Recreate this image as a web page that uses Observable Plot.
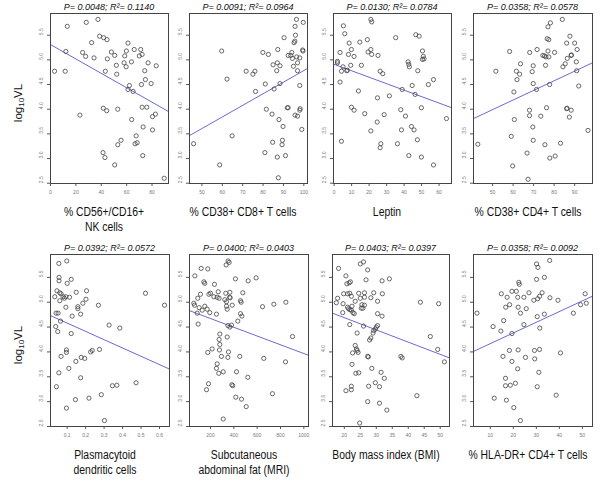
<!DOCTYPE html>
<html><head><meta charset="utf-8">
<script src="https://cdn.jsdelivr.net/npm/d3@7"></script>
<script src="https://cdn.jsdelivr.net/npm/@observablehq/plot@0.6"></script>
<style>
body{margin:0;background:#fff;}
#root{position:relative;width:600px;height:485px;overflow:hidden;font-family:"Liberation Sans",Arial,sans-serif;color:#111;}
.panel{position:absolute;}
.panel svg{overflow:visible;}
.lab{position:absolute;white-space:pre;text-align:center;}
.title{font-style:italic;font-size:9px;}
.xlab{font-size:12.5px;line-height:15px;}
.ylab{font-size:11.5px;}
.ylab sub{font-size:8px;vertical-align:-2px;line-height:0;}
</style></head><body><div id="root"></div>
<script>
// ---------------- data ----------------
const titles = ["P= 0.0048; R²= 0.1140","P= 0.0091; R²= 0.0964","P= 0.0130; R²= 0.0784","P= 0.0358; R²= 0.0578",
                "P= 0.0392; R²= 0.0572","P= 0.0400; R²= 0.0403","P= 0.0403; R²= 0.0397","P= 0.0358; R²= 0.0092"];
const xLabels = ["% CD56+/CD16+\nNK cells","% CD38+ CD8+ T cells","Leptin","% CD38+ CD4+ T cells",
                 "Plasmacytoid\ndendritic cells","Subcutaneous\nabdominal fat (MRI)","Body mass index (BMI)","% HLA-DR+ CD4+ T cells"];
const yLabel = "log10VL";
const xTicks = [[0,20,40,60,80],[50,60,70,80,90,100],[0,10,20,30,40,50,60],[50,60,70,80,90],
                [0.1,0.2,0.3,0.4,0.5,0.6],[200,400,600,800,1000],[20,25,30,35,40,45,50],[10,20,30,40,50]];
const xDomains = [[0,93],[43.9,101.8],[-0.35,67.1],[40.7,98.7],[0.0098,0.654],[20,1040],[16.3,52.9],[2.7,54.4]];
const yTicks = [2.5,3.0,3.5,4.0,4.5,5.0,5.5];
const yDomainTop = [2.494,5.94];
const yDomainBottom = [2.5,5.96];
const fitIntercepts = [5.31,2.433,4.91,3.016,4.747,4.848,5.181,3.952];
const fitSlopes = [-0.01459,0.0235,-0.0131,0.0195,-1.67,-0.00088,-0.0246,0.0215];

const nkCells = [[13.2,5.68],[28.2,5.76],[37.4,5.82],[38.7,5.48],[41.9,5.45],[44.5,5.41],[32.4,5.35],[25.3,5.15],[27.7,5.07],[12.1,5.17],[34.3,5.04],[44.8,5.02],[48,5.16],[50.6,5.09],[51.9,4.89],[43.2,4.77],[52.2,4.71],[3.2,4.77],[11.6,4.77],[61.1,5.34],[58.5,5.08],[59.8,5.18],[66,5.21],[71.1,5.21],[72.2,5.11],[70,5.08],[63.8,4.96],[58,4.94],[59.6,4.86],[76.9,4.94],[83.3,4.88],[74.3,4.78],[74.8,4.6],[79.3,4.52],[71.7,4.5],[62.2,4.48],[61.1,4.4],[65.1,4.36],[41.6,4.02],[44.3,3.97],[53,4.0],[72.2,4.04],[75.9,4.04],[80.4,3.85],[82.7,3.9],[23.2,3.88],[64,3.79],[73,3.64],[80.4,3.58],[67.5,3.46],[55.6,3.37],[53,3.28],[66.7,3.3],[68.3,3.32],[41.4,3.12],[42.9,3.02],[72.7,3.06],[50.6,2.87],[89.6,2.6]];
const cd38cd8 = [[45.9,3.3],[58.7,2.87],[59.7,5.18],[62.3,4.61],[64.8,3.46],[71.7,4.77],[75,4.71],[76,4.77],[76.3,4.36],[79.9,5.15],[82.6,5.11],[81.1,4.51],[81.6,4.0],[80.9,3.12],[84.4,3.9],[84.9,4.9],[85.4,4.41],[86.7,4.78],[87.2,5.21],[87,4.94],[88.3,4.88],[88.3,4.52],[87.8,3.79],[84.7,3.33],[89.5,3.37],[89.3,3.28],[87,3.03],[89.8,3.65],[87.5,2.61],[91,3.06],[90.3,5.45],[91.9,4.03],[92.3,4.03],[92.3,5.09],[93.6,5.09],[94.1,5.15],[94.4,5.03],[95.2,5.35],[95.6,5.38],[95.9,5.5],[95.7,5.68],[96.4,5.82],[96.5,5.06],[96.9,4.94],[94.9,4.87],[96.9,4.78],[95.7,3.88],[96.9,3.86],[98,3.98],[98,4.48],[99.7,5.76],[99.4,5.2],[99.6,5.18],[98.2,4.01],[99,3.59],[98,5.04]];
const leptin = [[1.9,4.97],[1.9,4.94],[3.4,5.15],[3.4,4.55],[4.2,4.77],[5.3,5.69],[6.1,5.53],[5.1,4.86],[7.2,4.78],[7.6,4.79],[8.6,5.34],[8.2,5.11],[9.5,4.89],[9.9,5.21],[11.4,5.07],[9.9,4.04],[11.4,3.98],[4.2,3.35],[13.9,4.37],[14.7,5.36],[15.6,4.89],[17.5,3.91],[19,5.41],[19.4,5.16],[21,5.82],[21.5,5.77],[21,5.21],[21.5,5.11],[25.1,5.09],[26.3,4.77],[27.8,4.72],[24.8,4.23],[24.6,3.74],[21,3.56],[28.6,3.89],[26.7,3.3],[26.3,3.22],[31.6,4.27],[35.2,5.45],[36.2,3.3],[38.1,3.99],[38.5,3.58],[38.9,4.4],[40.8,3.86],[42.3,4.96],[42.7,4.91],[43,4.86],[42.7,3.06],[44.2,3.65],[44.6,4.48],[45.7,3.58],[46.3,4.3],[46.7,5.51],[48.6,5.48],[47.8,4.78],[47.6,3.38],[49.9,4.03],[50.5,5.18],[51,5.07],[50.5,5.01],[51.4,5.02],[49.9,3.03],[53.9,4.5],[56.8,2.87],[56.8,4.6],[64.2,3.81]];
const cd38cd4 = [[42.8,3.29],[51.6,4.77],[58.3,5.17],[59.1,3.45],[59.8,2.85],[60.4,4.35],[60.6,3.79],[61.6,4.77],[61.9,4.6],[63.2,4.71],[63.6,4.92],[66.8,3.11],[67.3,2.58],[68.1,5.15],[68,3.98],[68,3.87],[69.3,4.76],[69.8,4.88],[69.8,4.52],[69.6,3.64],[69.8,3.37],[71.7,5.21],[71.4,4.4],[73.5,3.86],[74.5,5.09],[75.3,5.08],[76,5.06],[75.8,4.89],[76.6,5.43],[77,5.67],[77.4,5.41],[77,5.18],[77.4,5.06],[76.3,4.03],[75.5,3.28],[78.2,5.75],[77.8,4.5],[77.9,3.01],[80.2,5.15],[80.5,3.05],[83.1,3.31],[84,5.82],[84.3,4.86],[85.4,4.92],[86.1,5.34],[86.4,5.03],[86.1,4.01],[86.3,4.02],[87.4,3.84],[87.7,5.48],[88.3,5.09],[88.4,5.1],[88.3,3.98],[90,5.34],[91.2,5.21],[90.8,4.96],[91,4.78],[92,4.47],[96.5,3.57]];
const pdc = [[0.055,5.78],[0.098,5.83],[0.056,5.5],[0.056,5.43],[0.1,5.38],[0.122,5.46],[0.045,5.23],[0.06,5.19],[0.067,5.17],[0.033,5.11],[0.078,5.11],[0.085,5.08],[0.093,5.11],[0.06,5.03],[0.113,5.1],[0.149,5.2],[0.205,5.23],[0.202,5.06],[0.185,4.98],[0.158,4.91],[0.158,4.87],[0.093,4.9],[0.04,4.78],[0.051,4.78],[0.173,4.76],[0.127,4.72],[0.269,4.94],[0.524,5.18],[0.064,4.62],[0.038,4.51],[0.049,4.41],[0.122,4.37],[0.327,4.54],[0.385,4.48],[0.275,4.05],[0.236,4.03],[0.227,4.0],[0.096,4.04],[0.096,3.99],[0.067,3.91],[0.176,3.89],[0.195,3.87],[0.147,3.81],[0.109,3.67],[0.055,3.58],[0.173,3.48],[0.042,3.3],[0.345,3.32],[0.369,3.33],[0.473,3.38],[0.285,3.14],[0.218,3.07],[0.145,3.04],[0.096,2.87],[0.302,2.62],[0.627,4.94]];
const abdFat = [[120,5.68],[177,5.67],[66,5.53],[351,5.83],[360,5.8],[334,5.75],[143,5.41],[151,5.38],[234,5.36],[414,5.47],[523,5.43],[591,5.49],[57,4.98],[63,4.94],[91,5.08],[114,5.16],[186,5.16],[200,5.18],[229,5.11],[257,5.1],[274,5.08],[266,5.21],[323,5.05],[337,5.01],[331,5.18],[363,5.1],[369,5.09],[366,5.2],[386,4.94],[337,4.92],[343,4.86],[457,5.03],[463,5.0],[477,5.19],[151,4.92],[129,4.84],[171,4.86],[103,4.89],[194,4.79],[251,4.76],[94,4.56],[86,4.78],[457,4.77],[469,4.72],[434,4.62],[349,4.53],[366,4.5],[380,4.54],[646,4.91],[743,4.96],[846,5.0],[280,4.36],[343,4.3],[274,4.25],[280,4.15],[214,4.06],[177,3.99],[277,4.04],[354,4.0],[294,3.91],[349,3.89],[451,3.91],[657,3.87],[843,3.8],[903,4.31],[257,3.76],[251,3.67],[271,3.57],[309,3.6],[423,3.6],[183,3.36],[166,3.24],[383,3.34],[391,3.32],[520,3.49],[417,3.09],[466,3.05],[506,2.9],[731,3.16],[309,2.65]];
const bmi = [[18.2,5.68],[20.5,5.53],[20.8,5.37],[21.5,5.39],[21.9,5.41],[17.9,5.08],[17.5,4.99],[19.8,5.17],[21,5.17],[21.7,5.18],[22.2,5.12],[19.5,4.79],[19.6,4.97],[21,4.9],[21.3,4.87],[21.7,4.85],[22.4,4.92],[22.2,4.84],[22.7,4.79],[23.1,4.77],[21.7,4.55],[23.4,5.02],[24.5,5.18],[25,5.08],[25,5.77],[26,5.81],[25.5,4.95],[25.3,4.88],[25.8,4.88],[26.3,5.1],[26.3,5.19],[26.8,5.45],[27.3,5.65],[26.3,4.94],[28.3,5.09],[29.2,5.19],[30.4,5.02],[31.8,5.43],[34.1,5.47],[31.9,5.17],[26,4.52],[29,4.38],[29.2,4.43],[29.7,4.46],[30,4.5],[30.4,4.53],[30.4,4.77],[31.8,4.72],[24,4.38],[23.4,4.13],[23.8,4.06],[24,4.03],[24.3,3.99],[22.6,3.98],[27.9,4.24],[28.3,4.28],[27.3,3.91],[27.5,3.9],[22.4,3.75],[23.6,3.57],[24.5,3.58],[28.6,3.67],[31.5,3.59],[32.5,3.47],[29.7,3.38],[31,3.3],[27.6,3.31],[22.2,3.31],[22.2,3.24],[20.5,3.22],[27.3,3.0],[31,2.97],[33.3,2.83],[24.8,2.57],[37.7,3.91],[38.1,3.88],[43.8,5.0],[42.7,3.12],[46.9,4.31],[49.2,4.05],[49.5,4.97],[51.3,3.8]];
const hladr = [[4.2,4.78],[11.2,4.51],[14.8,5.17],[17.3,5.1],[19.4,5.22],[21.3,5.22],[18.4,4.95],[16.7,4.9],[15.8,4.63],[14.6,4.42],[19.4,4.37],[22.4,5.4],[22.6,5.36],[21.9,5.1],[22.1,4.9],[23.1,4.78],[24.6,5.1],[25.6,4.87],[26.8,5.19],[24.6,4.55],[28.9,5.04],[30.6,5.07],[31.4,5.12],[32.5,5.19],[30.4,4.71],[31.5,4.48],[33.5,4.76],[35.9,5.09],[30.1,5.77],[30.7,5.7],[30.1,5.46],[33.5,5.5],[35.8,5.84],[39.4,5.04],[46.1,4.78],[49.2,4.95],[51.7,4.98],[51.2,5.17],[15.5,3.91],[18.3,4.03],[19.4,3.81],[22.1,4.04],[25.3,3.89],[29.2,4.03],[29.3,3.86],[31.4,4.05],[21.9,3.66],[31.1,3.59],[40.5,3.98],[16.6,3.47],[16.6,3.32],[18.7,3.33],[20.9,3.37],[30.4,3.3],[11.7,3.07],[17,3.03],[20.2,2.88],[23.1,2.62],[38.6,3.13]];
const panelPoints = [nkCells, cd38cd8, leptin, cd38cd4, pdc, abdFat, bmi, hladr];

// ---------------- layout (pixels) ----------------
const frames = [[50,13,118,170],[189,13,118,170],[333,13,118,170],[473,13,119,170],
                [50,254,119,172],[189,254,119,172],[332,254,117,172],[473,254,119,172]];
const ML = 34, MR = 6, MT = 6, MB = 18;
const root = document.getElementById("root");

function addLabel(html, cls, cx, cy, transform) {
  const d = document.createElement("div");
  d.className = "lab " + cls;
  d.innerHTML = html;
  d.style.left = cx + "px";
  d.style.top = cy + "px";
  d.style.transform = transform;
  root.appendChild(d);
}

panelPoints.forEach((pts, i) => {
  const [fx, fy, fw, fh] = frames[i];
  const xd = xDomains[i];
  const yd = i < 4 ? yDomainTop : yDomainBottom;
  const fit = xd.map(x => ({x, y: fitIntercepts[i] + fitSlopes[i] * x}));
  const svg = Plot.plot({
    width: ML + fw + MR, height: MT + fh + MB,
    marginLeft: ML, marginRight: MR, marginTop: MT, marginBottom: MB,
    style: {background: "transparent", overflow: "visible", fontFamily: "'Liberation Sans', Arial, sans-serif"},
    x: {domain: xd}, y: {domain: yd},
    marks: [
      Plot.line(fit, {x: "x", y: "y", stroke: "#6a6ad2", strokeWidth: 1, clip: true}),
      Plot.dot(pts, {x: d => d[0], y: d => d[1], r: 2.1, stroke: "#444", strokeWidth: 0.8, fill: "none"}),
      Plot.frame({stroke: "#444", strokeWidth: 1}),
      Plot.axisX(xTicks[i], {anchor: "bottom", tickSize: 3, tickPadding: 4, fontSize: 5, stroke: "#555", fill: "#777", label: null, tickFormat: d => String(d)}),
      Plot.axisY(yTicks, {anchor: "left", tickSize: 3, stroke: "#555", fill: "none", label: null, tickFormat: () => ""}),
      Plot.text(yTicks, {y: d => d, frameAnchor: "left", dx: -9.5, rotate: -90, text: d => d.toFixed(1), fontSize: 5, fill: "#777"})
    ]
  });
  const div = document.createElement("div");
  div.className = "panel";
  div.style.left = (fx - ML) + "px";
  div.style.top = (fy - MT) + "px";
  div.appendChild(svg);
  root.appendChild(div);

  const cx = fx + fw / 2;
  addLabel(titles[i], "title", cx, fy - 6.5, "translate(-50%,-50%)");
  const lines = xLabels[i].split("\n").length;
  const ly = fy + fh + 29 + (lines - 1) * 7.5;
  addLabel(xLabels[i], "xlab", cx - 5, ly, "translate(-50%,-50%) scaleX(0.83)");
  if (i % 4 === 0) {
    const m = yLabel.match(/^(log)(10)(VL)$/);
    addLabel(m[1] + "<sub>" + m[2] + "</sub>" + m[3], "ylab", 18, fy + fh / 2 + 5, "translate(-50%,-50%) rotate(-90deg)");
  }
});
</script>
</body></html>
